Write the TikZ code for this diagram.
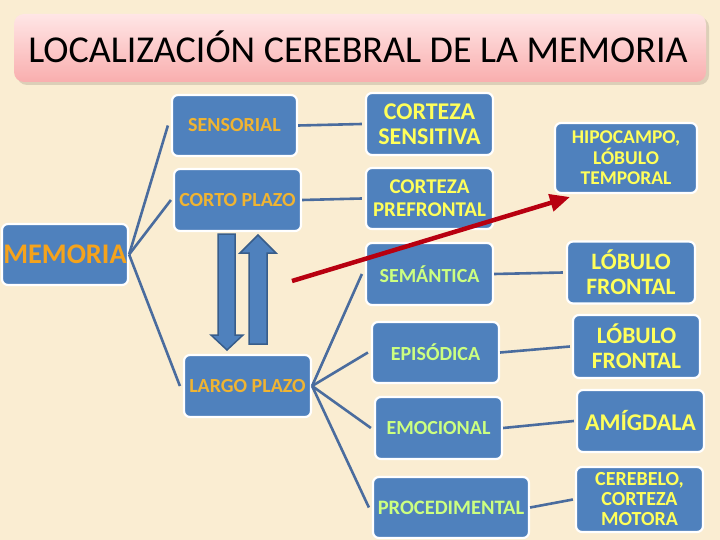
\documentclass[tikz,border=0pt]{standalone}
\usepackage{fontspec}
\setmainfont{Carlito}
\usetikzlibrary{arrows.meta}
\definecolor{bg}{HTML}{FAEDD2}
\definecolor{boxblue}{HTML}{4F81BD}
\definecolor{boxedge}{HTML}{385D8A}
\definecolor{linkblue}{HTML}{4A6C9E}
\definecolor{gold}{HTML}{F0B432}
\definecolor{orangey}{HTML}{F5A31C}
\definecolor{yel}{HTML}{FFFF5A}
\definecolor{lgreen}{HTML}{CCFF80}
\definecolor{darkred}{HTML}{B80010}
\definecolor{pinktop}{HTML}{FFE6E6}
\definecolor{pinkbot}{HTML}{F9AEAE}
\definecolor{shadowc}{HTML}{DCCFB8}
\tikzset{
  box/.style={draw=white, line width=2.2pt, fill=boxblue, rounded corners=6pt,
    align=center, inner sep=0pt, font=\bfseries},
  link/.style={draw=linkblue, line width=2.6pt},
  bigarrow/.style={fill=boxblue, draw=boxedge, line width=1.5pt, line join=miter}
}
\begin{document}
\begin{tikzpicture}[x=1pt,y=-1pt]
\fill[bg] (0,0) rectangle (720,540);
\useasboundingbox (0,0) rectangle (720,540);
% title
\fill[shadowc,rounded corners=10pt] (17,17) rectangle (709,85);
\shade[top color=pinktop, bottom color=pinkbot, rounded corners=10pt] (14,14) rectangle (706,82);
\node[font=\fontsize{38}{42}\selectfont, text=black] (title) at (358,47) {LOCALIZACIÓN CEREBRAL DE LA MEMORIA};
% left column
\node[box, minimum width=126pt, minimum height=61pt, text=orangey, font=\bfseries\fontsize{28.4}{30}\selectfont] (mem) at (65,254.5) {MEMORIA};
\node[box, minimum width=125pt, minimum height=61pt, text=gold, font=\bfseries\fontsize{20}{22}\selectfont] (sens) at (234.5,125.5) {SENSORIAL};
\node[box, minimum width=127pt, minimum height=62pt, text=gold, font=\bfseries\fontsize{20}{22}\selectfont] (corto) at (237.5,200) {CORTO PLAZO};
\node[box, minimum width=127pt, minimum height=62pt, text=gold, font=\bfseries\fontsize{20}{22}\selectfont] (largo) at (247.5,386) {LARGO PLAZO};
% middle column
\node[box, minimum width=127pt, minimum height=62pt, text=yel, font=\bfseries\fontsize{24}{25}\selectfont] (cs) at (429.5,124) {CORTEZA\\SENSITIVA};
\node[box, minimum width=127pt, minimum height=61pt, text=yel, font=\bfseries\fontsize{21}{23}\selectfont] (cp) at (429.5,198.5) {CORTEZA\\PREFRONTAL};
\node[box, minimum width=127pt, minimum height=62pt, text=lgreen, font=\bfseries\fontsize{20}{22}\selectfont] (sem) at (429.5,274) {SEMÁNTICA};
\node[box, minimum width=127pt, minimum height=61pt, text=lgreen, font=\bfseries\fontsize{20}{22}\selectfont] (epi) at (435.5,352.5) {EPISÓDICA};
\node[box, minimum width=127pt, minimum height=62pt, text=lgreen, font=\bfseries\fontsize{20}{22}\selectfont] (emo) at (438.5,428) {EMOCIONAL};
\node[box, minimum width=156pt, minimum height=61pt, text=lgreen, font=\bfseries\fontsize{20.5}{22}\selectfont] (proc) at (451,507.5) {PROCEDIMENTAL};
% right column
\node[box, minimum width=142pt, minimum height=70pt, text=yel, font=\bfseries\fontsize{19.5}{20.5}\selectfont] (hip) at (626,158) {HIPOCAMPO,\\LÓBULO\\TEMPORAL};
\node[box, minimum width=128pt, minimum height=62pt, text=yel, font=\bfseries\fontsize{23.5}{25}\selectfont] (lf1) at (631,272.5) {LÓBULO\\FRONTAL};
\node[box, minimum width=127pt, minimum height=63pt, text=yel, font=\bfseries\fontsize{23.5}{25}\selectfont] (lf2) at (636.5,346.5) {LÓBULO\\FRONTAL};
\node[box, minimum width=127pt, minimum height=62pt, text=yel, font=\bfseries\fontsize{24}{26}\selectfont] (amig) at (640.5,421) {AMÍGDALA};
\node[box, minimum width=127pt, minimum height=65pt, text=yel, font=\bfseries\fontsize{20}{20}\selectfont] (cer) at (639.5,499.5) {CEREBELO,\\CORTEZA\\MOTORA};
% connectors
\draw[link] (mem.east) -- ([xshift=-3pt]sens.west);
\draw[link] (mem.east) -- ([xshift=-2pt]corto.west);
\draw[link] (mem.east) -- ([xshift=-3pt]largo.west);
\draw[link] (sens.east) -- ([xshift=-3pt]cs.west);
\draw[link] (corto.east) -- ([xshift=-3pt]cp.west);
\draw[link] (largo.east) -- ([xshift=-3pt]sem.west);
\draw[link] (largo.east) -- ([xshift=-3pt]epi.west);
\draw[link] (largo.east) -- ([xshift=-3pt]emo.west);
\draw[link] (largo.east) -- ([xshift=-3pt]proc.west);
\draw[link] (sem.east) -- ([xshift=-3pt]lf1.west);
\draw[link] (epi.east) -- ([xshift=-2pt]lf2.west);
\draw[link] (emo.east) -- ([xshift=-2pt]amig.west);
\draw[link] (proc.east) -- ([xshift=-2pt]cer.west);
% up/down arrows
\filldraw[bigarrow] (218,234) -- (235,234) -- (235,335) -- (243,335) -- (227,350) -- (211,335) -- (218,335) -- cycle;
\filldraw[bigarrow] (249,344) -- (267,344) -- (267,253) -- (276,253) -- (258,235) -- (240,253) -- (249,253) -- cycle;
% red arrow
\coordinate (rs) at (292,281);
\coordinate (re) at (570,197);
\draw[darkred, line width=4.5pt, -{Triangle[length=20pt,width=17pt]}] (rs) -- (re);
\end{tikzpicture}
\end{document}
